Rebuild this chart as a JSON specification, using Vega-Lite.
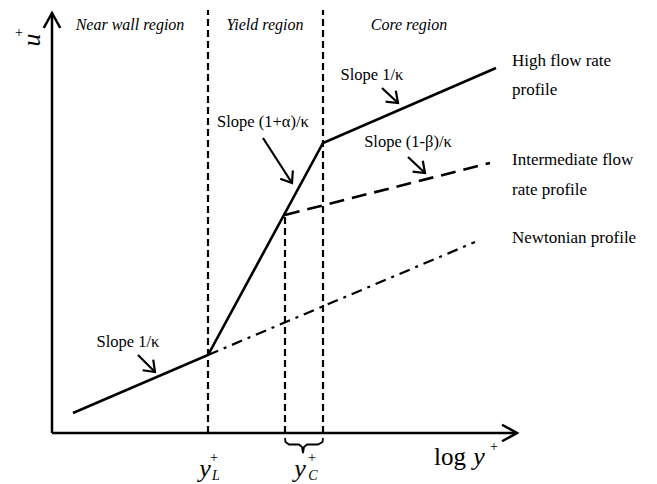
{
  "$schema": "https://vega.github.io/schema/vega-lite/v6.json",
  "width": 657,
  "height": 484,
  "padding": 0,
  "autosize": {"type": "none"},
  "background": "white",
  "config": {"view": {"stroke": null}},
  "datasets": {
    "axes": [
      {"x": 52, "y": 51, "x2": 517, "y2": 51},
      {"x": 52, "y": 51, "x2": 52, "y2": 471}
    ],
    "axisHeads": [
      {"x": 517, "y": 51, "angle": 0},
      {"x": 52, "y": 471, "angle": -90}
    ],
    "bounds": [
      {"x": 208, "y": 51, "y2": 474},
      {"x": 323, "y": 51, "y2": 474},
      {"x": 285, "y": 51, "y2": 269}
    ],
    "high": [
      {"x": 73, "y": 71},
      {"x": 208, "y": 129},
      {"x": 323, "y": 341},
      {"x": 496, "y": 416}
    ],
    "intermediate": [
      {"x": 285, "y": 269},
      {"x": 490, "y": 321}
    ],
    "newtonian": [
      {"x": 208, "y": 129},
      {"x": 475, "y": 242}
    ],
    "brace": [
      {"i": 0, "x": 285, "y": 46},
      {"i": 1, "x": 285.5, "y": 42},
      {"i": 2, "x": 289, "y": 39.5},
      {"i": 3, "x": 299, "y": 39.5},
      {"i": 4, "x": 302, "y": 37},
      {"i": 5, "x": 303, "y": 31},
      {"i": 6, "x": 304, "y": 37},
      {"i": 7, "x": 307, "y": 39.5},
      {"i": 8, "x": 318, "y": 39.5},
      {"i": 9, "x": 322.5, "y": 42},
      {"i": 10, "x": 323, "y": 46}
    ],
    "slopeArrows": [
      {"x": 138, "y": 129, "x2": 155, "y2": 112, "angle": 45},
      {"x": 263, "y": 346, "x2": 292, "y2": 301, "angle": 57},
      {"x": 382, "y": 396, "x2": 398, "y2": 381, "angle": 43},
      {"x": 408, "y": 327, "x2": 425, "y2": 311, "angle": 43}
    ],
    "regions": [
      {"x": 130, "y": 459, "label": "Near wall region"},
      {"x": 265, "y": 459, "label": "Yield region"},
      {"x": 409, "y": 459, "label": "Core region"}
    ],
    "profiles": [
      {"x": 512, "y": 423, "label": "High flow rate"},
      {"x": 512, "y": 394, "label": "profile"},
      {"x": 512, "y": 324, "label": "Intermediate flow"},
      {"x": 512, "y": 294, "label": "rate profile"},
      {"x": 512, "y": 246, "label": "Newtonian profile"}
    ],
    "slopes": [
      {"x": 128, "y": 142, "label": "Slope 1/κ"},
      {"x": 263, "y": 362, "label": "Slope (1+α)/κ"},
      {"x": 372, "y": 409, "label": "Slope 1/κ"},
      {"x": 408, "y": 342, "label": "Slope (1-β)/κ"}
    ],
    "mathMain": [
      {"x": 205, "y": 15, "label": "y"},
      {"x": 300, "y": 15, "label": "y"},
      {"x": 479, "y": 27, "label": "y"}
    ],
    "mathSub": [
      {"x": 216, "y": 8, "label": "L"},
      {"x": 313, "y": 8, "label": "C"}
    ],
    "mathSup": [
      {"x": 214, "y": 26, "label": "+"},
      {"x": 312, "y": 26, "label": "+"},
      {"x": 494, "y": 37, "label": "+"},
      {"x": 19, "y": 451, "label": "+"}
    ],
    "logText": [
      {"x": 450, "y": 27, "label": "log"}
    ],
    "uText": [
      {"x": 32, "y": 444, "label": "u"}
    ]
  },
  "encoding": {
    "x": {"field": "x", "type": "quantitative", "scale": {"domain": [0, 657], "nice": false, "zero": false}, "axis": null},
    "y": {"field": "y", "type": "quantitative", "scale": {"domain": [0, 484], "nice": false, "zero": false}, "axis": null}
  },
  "layer": [
    {
      "data": {"name": "bounds"},
      "mark": {"type": "rule", "strokeDash": [7, 4], "strokeWidth": 2.2, "color": "black"},
      "encoding": {"y2": {"field": "y2"}}
    },
    {
      "data": {"name": "axes"},
      "mark": {"type": "rule", "strokeWidth": 2.5, "color": "black"},
      "encoding": {"x2": {"field": "x2"}, "y2": {"field": "y2"}}
    },
    {
      "data": {"name": "axisHeads"},
      "mark": {"type": "point", "shape": "M-1,-0.55L0,0L-1,0.55", "size": 900, "filled": false, "strokeWidth": 2.5, "color": "black", "opacity": 1},
      "encoding": {"angle": {"field": "angle", "type": "quantitative", "scale": null}}
    },
    {
      "data": {"name": "high"},
      "mark": {"type": "line", "strokeWidth": 2.6, "color": "black"},
      "encoding": {}
    },
    {
      "data": {"name": "intermediate"},
      "mark": {"type": "line", "strokeWidth": 2.6, "strokeDash": [15, 8], "color": "black"},
      "encoding": {}
    },
    {
      "data": {"name": "newtonian"},
      "mark": {"type": "line", "strokeWidth": 2.2, "strokeDash": [11, 6, 3, 6], "color": "black"},
      "encoding": {}
    },
    {
      "data": {"name": "brace"},
      "mark": {"type": "line", "strokeWidth": 1.8, "color": "black"},
      "encoding": {"order": {"field": "i", "type": "quantitative"}}
    },
    {
      "data": {"name": "slopeArrows"},
      "mark": {"type": "rule", "strokeWidth": 2.2, "color": "black"},
      "encoding": {"x2": {"field": "x2"}, "y2": {"field": "y2"}}
    },
    {
      "data": {"name": "slopeArrows"},
      "mark": {"type": "point", "shape": "M-1,-0.75L0,0L-1,0.75", "size": 400, "filled": false, "strokeWidth": 2.2, "color": "black", "opacity": 1},
      "encoding": {
        "x": {"field": "x2", "type": "quantitative"},
        "y": {"field": "y2", "type": "quantitative"},
        "angle": {"field": "angle", "type": "quantitative", "scale": null}
      }
    },
    {
      "data": {"name": "regions"},
      "mark": {"type": "text", "font": "'Liberation Serif', 'DejaVu Serif', serif", "fontSize": 16, "fontStyle": "italic", "align": "center", "baseline": "middle", "color": "black"},
      "encoding": {"text": {"field": "label"}}
    },
    {
      "data": {"name": "profiles"},
      "mark": {"type": "text", "font": "'Liberation Serif', 'DejaVu Serif', serif", "fontSize": 17, "align": "left", "baseline": "middle", "color": "black"},
      "encoding": {"text": {"field": "label"}}
    },
    {
      "data": {"name": "slopes"},
      "mark": {"type": "text", "font": "'Liberation Serif', 'DejaVu Serif', serif", "fontSize": 16.5, "align": "center", "baseline": "middle", "color": "black"},
      "encoding": {"text": {"field": "label"}}
    },
    {
      "data": {"name": "mathMain"},
      "mark": {"type": "text", "font": "'Liberation Serif', 'DejaVu Serif', serif", "fontSize": 26, "fontStyle": "italic", "align": "center", "baseline": "middle", "color": "black"},
      "encoding": {"text": {"field": "label"}}
    },
    {
      "data": {"name": "mathSub"},
      "mark": {"type": "text", "font": "'Liberation Serif', 'DejaVu Serif', serif", "fontSize": 14, "fontStyle": "italic", "align": "center", "baseline": "middle", "color": "black"},
      "encoding": {"text": {"field": "label"}}
    },
    {
      "data": {"name": "mathSup"},
      "mark": {"type": "text", "font": "'Liberation Serif', 'DejaVu Serif', serif", "fontSize": 14, "align": "center", "baseline": "middle", "color": "black"},
      "encoding": {"text": {"field": "label"}}
    },
    {
      "data": {"name": "logText"},
      "mark": {"type": "text", "font": "'Liberation Serif', 'DejaVu Serif', serif", "fontSize": 25, "align": "center", "baseline": "middle", "color": "black"},
      "encoding": {"text": {"field": "label"}}
    },
    {
      "data": {"name": "uText"},
      "mark": {"type": "text", "font": "'Liberation Serif', 'DejaVu Serif', serif", "fontSize": 26, "fontStyle": "italic", "angle": 270, "align": "center", "baseline": "middle", "color": "black"},
      "encoding": {"text": {"field": "label"}}
    }
  ]
}
